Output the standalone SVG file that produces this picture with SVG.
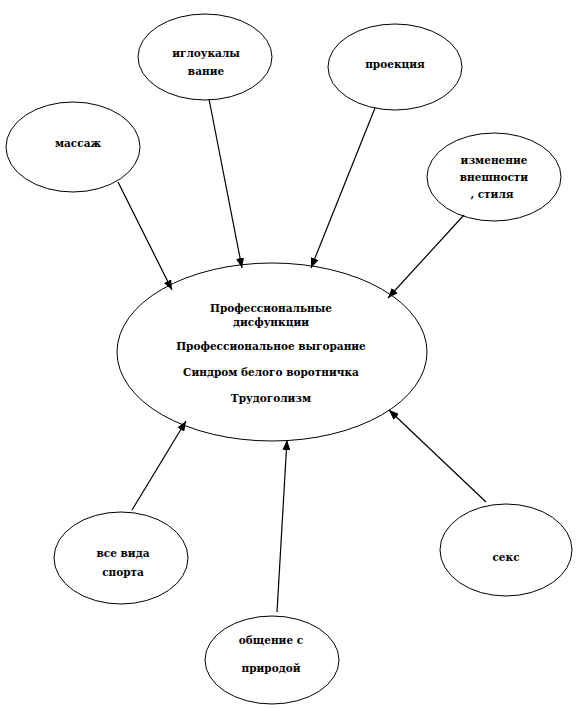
<svg xmlns="http://www.w3.org/2000/svg" width="580" height="709" viewBox="0 0 580 709">
<style>
  .n ellipse { fill: #fff; stroke: #000; stroke-width: 1; }
  .n text { font-family: "DejaVu Serif", "Liberation Serif", serif; font-weight: bold; font-size: 10.5px; text-anchor: middle; fill: #000; }
  .c line { stroke: #000; stroke-width: 1.2; marker-end: url(#ah); }
</style>
<defs>
  <marker id="ah" markerWidth="10" markerHeight="8" refX="10" refY="4" orient="auto" markerUnits="userSpaceOnUse">
    <path d="M0,0 L10,4 L0,8 Z" fill="#000"/>
  </marker>
</defs>
<rect width="580" height="709" fill="#fff"/>
<g id="center" class="n">
  <ellipse cx="272" cy="352" rx="155" ry="89"/>
  <text x="271" y="312">Профессиональные</text>
  <text x="271" y="326">дисфункции</text>
  <text x="271" y="350">Профессиональное выгорание</text>
  <text x="271" y="376">Синдром белого воротничка</text>
  <text x="271" y="402">Трудоголизм</text>
</g>
<g id="igloukalyvanie" class="n">
  <ellipse cx="205" cy="57" rx="67" ry="43"/>
  <text x="206" y="57">иглоукалы</text>
  <text x="206" y="75">вание</text>
</g>
<g id="proekciya" class="n">
  <ellipse cx="395" cy="67" rx="67" ry="43"/>
  <text x="395" y="68">проекция</text>
</g>
<g id="massazh" class="n">
  <ellipse cx="73" cy="147" rx="67" ry="45"/>
  <text x="78" y="147">массаж</text>
</g>
<g id="izmenenie" class="n">
  <ellipse cx="494" cy="177" rx="67" ry="44"/>
  <text x="494" y="164">изменение</text>
  <text x="494" y="181">внешности</text>
  <text x="492" y="198">, стиля</text>
</g>
<g id="sport" class="n">
  <ellipse cx="121" cy="558" rx="67" ry="46"/>
  <text x="123" y="557">все вида</text>
  <text x="123" y="576">спорта</text>
</g>
<g id="seks" class="n">
  <ellipse cx="506" cy="550" rx="66" ry="46"/>
  <text x="506" y="561">секс</text>
</g>
<g id="obshchenie" class="n">
  <ellipse cx="272" cy="660" rx="67" ry="44"/>
  <text x="271" y="644">общение с</text>
  <text x="271" y="672">природой</text>
</g>
<g id="connectors" class="c">
  <line x1="118" y1="182" x2="172" y2="290"/>
  <line x1="209" y1="99" x2="242" y2="268"/>
  <line x1="375" y1="108" x2="311" y2="268"/>
  <line x1="464" y1="215" x2="388" y2="298"/>
  <line x1="132" y1="510" x2="186" y2="421"/>
  <line x1="277" y1="612" x2="287" y2="440"/>
  <line x1="486" y1="502" x2="389" y2="410"/>
</g>
</svg>
